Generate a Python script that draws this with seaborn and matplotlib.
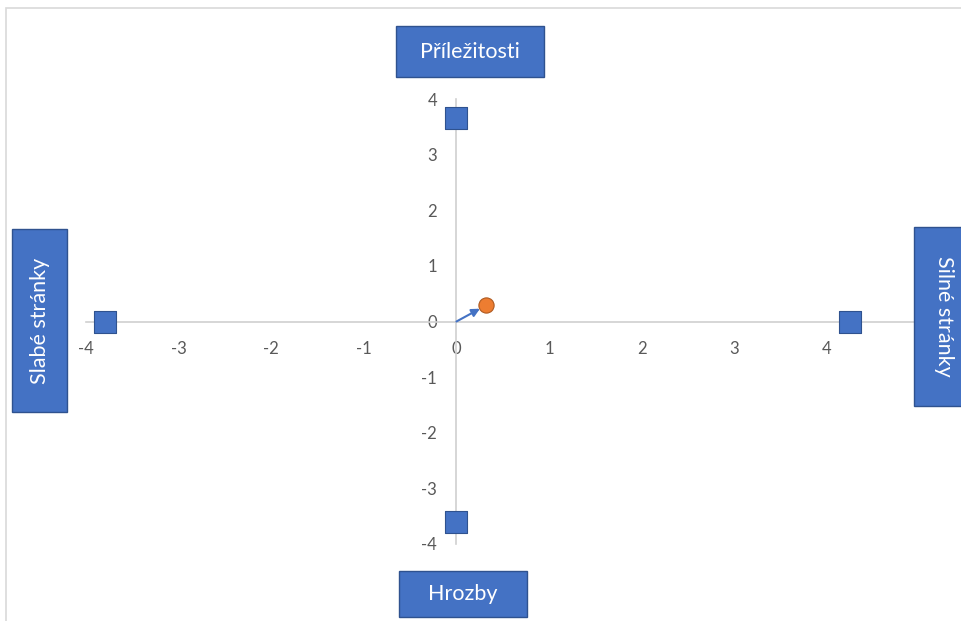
import matplotlib
matplotlib.use("Agg")
import matplotlib.pyplot as plt
import seaborn as sns
import pandas as pd
from matplotlib.patches import Rectangle

sns.set_theme(style="white")
plt.rcParams['font.family'] = ['Lato', 'DejaVu Sans']

# ---- data ----
quadrant_names = ["Silné stránky", "Slabé stránky", "Příležitosti", "Hrozby"]
quadrant_x = [4.25, -3.79, 0.0, 0.0]
quadrant_y = [0.0, 0.0, 3.65, -3.6]
result_x = [0.32]
result_y = [0.29]
x_ticks = [-4, -3, -2, -1, 0, 1, 2, 3, 4]
y_ticks = [-4, -3, -2, -1, 0, 1, 2, 3, 4]

df_q = pd.DataFrame({"x": quadrant_x, "y": quadrant_y, "name": quadrant_names})
df_r = pd.DataFrame({"x": result_x, "y": result_y})

W, H = 962, 621
fig = plt.figure(figsize=(W / 100, H / 100), dpi=100)
fig.patch.set_facecolor("white")

# outer chart border (top/left visible)
fig.add_artist(Rectangle((6 / W, -0.05), 1.1, 1 - 8 / H + 0.05, transform=fig.transFigure,
                         fill=False, edgecolor="#d9d9d9", lw=1.2))

ax = fig.add_axes([86 / W, 1 - 544 / H, (919.5 - 86) / W, (544 - 99) / H])
ax.set_facecolor("none")

sns.scatterplot(data=df_q, x="x", y="y", marker="s", s=240, color="#4472C4",
                edgecolor="#2F528F", linewidth=0.8, ax=ax, zorder=4, clip_on=False)
ax.annotate("", xy=(result_x[0], result_y[0]), xytext=(0, 0),
            arrowprops=dict(arrowstyle="-|>", color="#4472C4", lw=1.5,
                            shrinkA=0, shrinkB=5, mutation_scale=12), zorder=3)
sns.scatterplot(data=df_r, x="x", y="y", marker="o", s=120, color="#ED7D31",
                edgecolor="#AE5A21", linewidth=0.8, ax=ax, zorder=5)

ax.set_xlim(-4, 5)
ax.set_ylim(-4, 4)
ax.set_xticks(x_ticks)
ax.set_yticks(y_ticks)
ax.set_xticklabels([str(t) for t in x_ticks])
ax.set_yticklabels([str(t) for t in y_ticks])
ax.set_xlabel("")
ax.set_ylabel("")
for s in ["top", "right"]:
    ax.spines[s].set_visible(False)
ax.spines["left"].set_position(("data", 0))
ax.spines["bottom"].set_position(("data", 0))
for s in ["left", "bottom"]:
    ax.spines[s].set_color("#d0d0d0")
    ax.spines[s].set_linewidth(1.2)
ax.tick_params(axis="both", length=0, labelsize=12, colors="#595959")
ax.tick_params(axis="y", pad=14)
ax.tick_params(axis="x", pad=14)
ax.grid(False)


def label_box(x0, y0, x1, y1, text, rot):
    fig.add_artist(Rectangle((x0 / W, 1 - y1 / H), (x1 - x0) / W, (y1 - y0) / H,
                             transform=fig.transFigure, facecolor="#4472C4",
                             edgecolor="#2F528F", lw=1.0, zorder=10))
    fig.text((x0 + x1) / 2 / W, 1 - (y0 + y1) / 2 / H, text, color="white",
             fontsize=15.5, ha="center", va="center", rotation=rot, zorder=11)


label_box(396, 26, 544, 77, quadrant_names[2], 0)
label_box(399, 571, 527, 617, quadrant_names[3], 0)
label_box(12, 229, 67, 412, quadrant_names[1], 90)
label_box(914, 227, 975, 406, quadrant_names[0], 270)

fig.savefig("out.png", dpi=100)
